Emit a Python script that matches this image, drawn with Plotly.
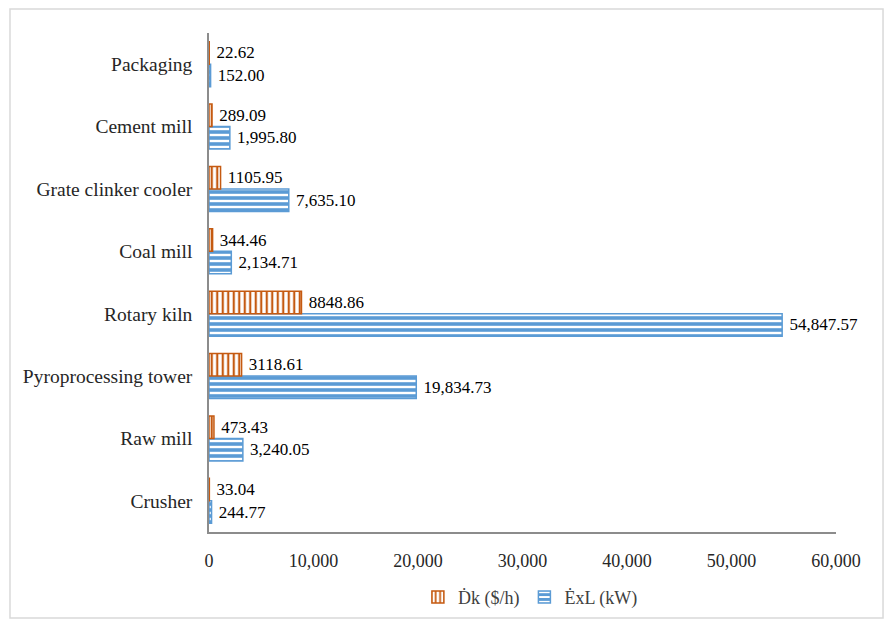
import plotly.graph_objects as go

# Process units, listed bottom to top
units = ["Crusher", "Raw mill", "Pyroprocessing tower", "Rotary kiln",
         "Coal mill", "Grate clinker cooler", "Cement mill", "Packaging"]

# Exergy destruction cost rate ($/h)
dk_cost = [33.04, 473.43, 3118.61, 8848.86, 344.46, 1105.95, 289.09, 22.62]

# Exergy loss (kW)
exl_kw = [244.77, 3240.05, 19834.73, 54847.57, 2134.71, 7635.10, 1995.80, 152.00]

x_ticks = [0, 10000, 20000, 30000, 40000, 50000, 60000]

ORANGE = "#c55a11"
BLUE = "#5b9bd5"
SERIF = "Liberation Serif, Times New Roman, serif"
NBSP = "\u00a0"

fig = go.Figure()

# Blue series first so the orange bar sits above it within each group
fig.add_trace(go.Bar(
    name="\u0116xL (kW)",
    y=units, x=exl_kw, orientation="h",
    marker=dict(color="white",
                line=dict(color=BLUE, width=1.5),
                pattern=dict(shape="-", fgcolor=BLUE, bgcolor="white",
                             size=6, solidity=0.6, fillmode="replace")),
    texttemplate=NBSP + "%{x:,.2f}", textposition="outside",
    textfont=dict(family=SERIF, size=17, color="black"),
    cliponaxis=False,
))
fig.add_trace(go.Bar(
    name="\u1E0Ak ($/h)",
    y=units, x=dk_cost, orientation="h",
    marker=dict(color="white",
                line=dict(color=ORANGE, width=1.5),
                pattern=dict(shape="|", fgcolor=ORANGE, bgcolor="white",
                             size=5.5, solidity=0.4, fillmode="replace")),
    texttemplate=NBSP + "%{x:.2f}", textposition="outside",
    textfont=dict(family=SERIF, size=17, color="black"),
    cliponaxis=False,
))

fig.update_layout(
    width=884, height=619,
    margin=dict(l=209, r=48, t=33, b=87),
    paper_bgcolor="white", plot_bgcolor="white",
    barmode="group", bargap=0.28, bargroupgap=0,
    font=dict(family=SERIF, size=18, color="#262626"),
    showlegend=True,
    legend=dict(orientation="h", traceorder="reversed",
                xref="container", yref="container",
                x=0.6, xanchor="center", y=0.035, yanchor="middle",
                bgcolor="rgba(0,0,0,0)",
                font=dict(family=SERIF, size=18, color="#404040")),
    shapes=[dict(type="rect", xref="paper", yref="paper",
                 x0=-0.3174, x1=1.075, y0=-0.1723, y1=1.048,
                 line=dict(color="#d9d9d9", width=1.5), fillcolor="rgba(0,0,0,0)",
                 layer="below")],
)

fig.update_xaxes(
    range=[0, 60000], tickvals=x_ticks, tickformat=",",
    showgrid=False, zeroline=False, automargin=False,
    showline=True, linecolor="#8c8c8c", linewidth=1.5,
    ticks="", ticklabelstandoff=12,
    tickfont=dict(family=SERIF, size=18, color="#262626"),
)
fig.update_yaxes(
    categoryorder="array", categoryarray=units, automargin=False,
    showgrid=False, showline=True, linecolor="#8c8c8c", linewidth=1.5,
    ticks="", ticklabelstandoff=11,
    tickfont=dict(family=SERIF, size=19.5, color="#262626"),
)

fig.write_html("out.html")
